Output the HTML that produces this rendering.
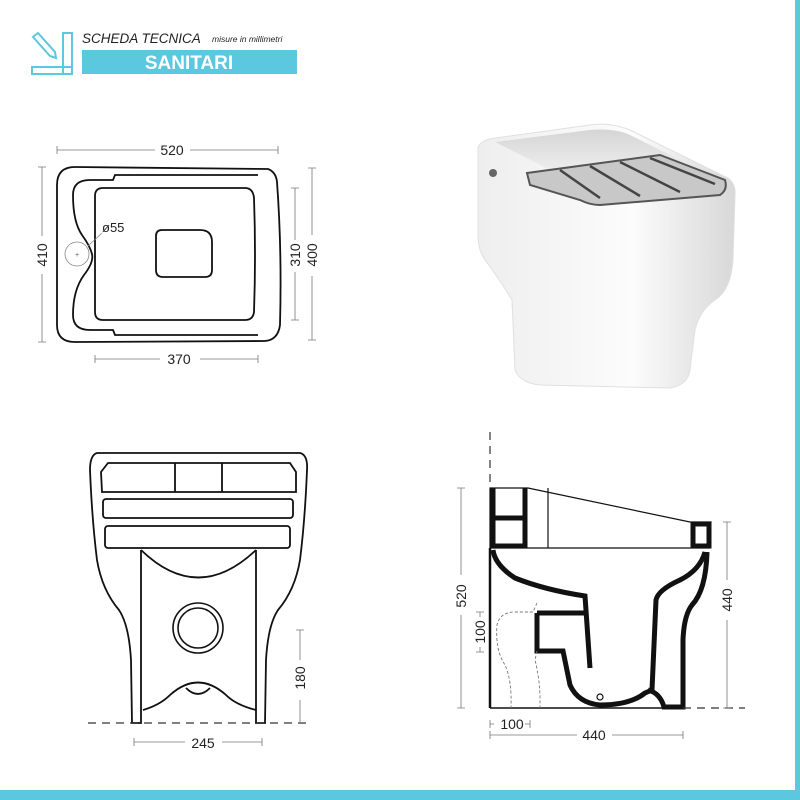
<!DOCTYPE html>
<html><head><meta charset="utf-8"><style>
html,body{margin:0;padding:0;background:#fff}
svg{display:block}
text{font-family:"Liberation Sans",sans-serif}
</style></head><body>
<svg width="800" height="800" viewBox="0 0 800 800" xmlns="http://www.w3.org/2000/svg">
<rect width="800" height="800" fill="#fff"/>
<rect x="0" y="790" width="800" height="10" fill="#5bc8e0"/>
<rect x="795" y="0" width="5" height="800" fill="#5bc8e0"/>

<!-- header icon -->
<g fill="none" stroke="#5bc8e0" stroke-width="2">
<rect x="32" y="67" width="40" height="7"/>
<rect x="63" y="33" width="9" height="41"/>
<path d="M33 37 L38 33 L55 52 L56 58 L50 56 Z"/>
</g>
<text x="82" y="43" font-size="13.5" font-style="italic" fill="#222">SCHEDA TECNICA</text>
<text x="212" y="42" font-size="8.5" font-style="italic" fill="#222">misure in millimetri</text>
<rect x="82" y="50" width="215" height="24" fill="#5bc8e0"/>
<text x="189" y="69" font-size="19" font-weight="bold" fill="#fff" text-anchor="middle">SANITARI</text>

<!-- top plan -->
<g fill="none" stroke="#111" stroke-width="1.8">
<path d="M57 185 Q57 167 75 167 L268 169 Q276 172 277 182 Q282 250 280 325 Q278 340 265 341 L75 342 Q57 342 57 325 Z"/>
<path d="M258 175 L115 175 L113 180 L90 180 Q73 180 73 195 Q73 222 82 235 Q90 246 92 254 Q94 262 84 275 Q73 290 73 315 Q73 330 90 330 L113 330 L115 335 L258 335"/>
<path d="M103 188 L245 188 Q253 188 254 198 Q256 255 254 312 Q253 320 245 320 L103 320 Q95 320 95 312 L95 196 Q95 188 103 188 Z"/>
<path d="M162 230 L200 230 Q212 230 212 242 L212 270 Q212 277 205 277 L163 277 Q156 277 156 270 L156 236 Q156 230 162 230 Z"/>
</g>
<circle cx="77" cy="254" r="12" fill="none" stroke="#888" stroke-width="0.8"/>
<text x="77" y="257" font-size="7" fill="#555" text-anchor="middle">+</text>
<line x1="88" y1="246" x2="102" y2="233" stroke="#888" stroke-width="0.8"/>
<text x="102" y="232" font-size="13" fill="#222">ø55</text>
<g stroke="#777" stroke-width="0.8" fill="none">
<path d="M57 146 V154 M57 150 H155 M190 150 H278 M278 146 V154"/>
<path d="M38 167 H46 M42 167 V236 M42 274 V342 M38 342 H46"/>
<path d="M291 188 H299 M295 188 V240 M295 272 V320 M291 320 H299"/>
<path d="M308 168 H316 M312 168 V235 M312 276 V340 M308 340 H316"/>
<path d="M95 355 V363 M95 359 H160 M200 359 H258 M258 355 V363"/>
</g>
<g font-size="14" fill="#222">
<text x="172" y="155" text-anchor="middle">520</text>
<text x="179" y="364" text-anchor="middle">370</text>
<text transform="translate(47,255) rotate(-90)" text-anchor="middle">410</text>
<text transform="translate(300,255) rotate(-90)" text-anchor="middle">310</text>
<text transform="translate(317,255) rotate(-90)" text-anchor="middle">400</text>
</g>

<!-- photo -->
<defs>
<linearGradient id="g1" x1="0" y1="0" x2="1" y2="0">
<stop offset="0" stop-color="#eeeeee"/><stop offset="0.6" stop-color="#fcfcfc"/><stop offset="1" stop-color="#d8d8d8"/></linearGradient>
<linearGradient id="g2" x1="0" y1="0" x2="0" y2="1">
<stop offset="0" stop-color="#d5d5d5"/><stop offset="1" stop-color="#f0f0f0"/></linearGradient>
</defs>
<path d="M478 148 Q480 140 495 138 L590 125 Q610 122 630 130 L728 178 Q736 184 735 195 L733 260 Q731 290 715 300 Q700 310 695 330 L690 370 Q688 385 670 388 L540 385 Q520 383 515 370 L512 300 Q500 280 485 260 Q478 250 478 235 Z" fill="url(#g1)" stroke="#e0e0e0"/>
<path d="M495 142 L590 130 Q615 128 630 135 L700 170 L690 175 L560 175 Z" fill="url(#g2)"/>
<path d="M527 173 L660 155 L725 180 Q728 190 720 195 L600 205 Q590 205 580 200 L530 185 Z" fill="#c8c8c8" stroke="#555" stroke-width="2"/>
<g stroke="#444" stroke-width="2.5"><line x1="560" y1="170" x2="600" y2="198"/><line x1="590" y1="166" x2="640" y2="196"/><line x1="620" y1="162" x2="680" y2="192"/><line x1="650" y1="158" x2="715" y2="184"/></g>
<circle cx="493" cy="173" r="4" fill="#666"/>

<!-- front view -->
<g fill="none" stroke="#111" stroke-width="1.8">
<path d="M141 550 L141 723 L132 723 L131 660 Q129 625 119 610 Q102 590 97 560 Q92 520 90 470 Q90 455 97 453 L300 453 Q308 455 307 470 Q305 520 300 560 Q295 590 278 610 Q268 625 266 660 L265 723 L256 723 L256 550"/>
<path d="M108 463 L290 463 L296 472 L296 492 L102 492 L101 472 Z M175 463 V492 M222 463 V492"/>
<rect x="103" y="499" width="190" height="19" rx="3"/>
<rect x="105" y="526" width="185" height="22" rx="3"/>
<path d="M141 550 Q198 605 256 550"/>
<path d="M143 710 Q160 705 170 695 Q198 670 226 695 Q236 705 256 710"/>
<path d="M186 688 Q198 700 210 688"/>
</g>
<circle cx="198" cy="628" r="25" fill="none" stroke="#111" stroke-width="1.6"/>
<circle cx="198" cy="628" r="20" fill="none" stroke="#111" stroke-width="1.6"/>
<line x1="88" y1="723" x2="308" y2="723" stroke="#333" stroke-width="1.2" stroke-dasharray="8 6"/>
<g stroke="#777" stroke-width="0.8" fill="none">
<path d="M296 630 H304 M300 630 V660 M300 700 V723"/>
<path d="M134 738 V746 M134 742 H185 M222 742 H262 M262 738 V746"/>
</g>
<g font-size="14" fill="#222">
<text x="203" y="748" text-anchor="middle">245</text>
<text transform="translate(305,678) rotate(-90)" text-anchor="middle">180</text>
</g>

<!-- side view -->
<line x1="490" y1="432" x2="490" y2="488" stroke="#333" stroke-width="1.2" stroke-dasharray="8 6"/>
<g fill="none" stroke="#111">
<path d="M490 488 L528 488 L690 522 L711 522 L709 548 L490 548 Z" stroke-width="1.2"/>
<line x1="548" y1="488" x2="548" y2="548" stroke-width="1.2"/>
<path d="M693 524 H709 V546 H693 Z" stroke-width="5"/>
<path d="M493 488 V548 M525 488 V548 M493 518 H525 M493 546 H525" stroke-width="5"/>
<path d="M493 550 Q495 565 515 578 Q545 590 585 596 L590 668" stroke-width="5"/>
<path d="M537 613 H585 M537 613 V651 H563 L570 685 Q578 703 600 705 Q630 705 645 693 L652 690 L656 600 Q658 590 680 580 Q700 570 705 552" stroke-width="5"/>
<path d="M707 552 Q706 590 692 605 Q684 615 683 640 L683 707 L664 707 Q660 693 648 690" stroke-width="5"/>
<line x1="490" y1="548" x2="490" y2="708" stroke-width="2.5"/>
<line x1="490" y1="708" x2="683" y2="708" stroke-width="1.5"/>
</g>
<circle cx="600" cy="697" r="3" fill="none" stroke="#111" stroke-width="1.2"/>
<line x1="683" y1="708" x2="745" y2="708" stroke="#333" stroke-width="1.2" stroke-dasharray="8 6"/>
<g stroke="#777" stroke-width="0.9" fill="none" stroke-dasharray="3 2">
<path d="M537 603 L533 612 L515 612 Q500 612 497 625 Q495 650 505 665 Q512 680 511 708"/>
<path d="M537 651 L535 660 Q540 680 540 700 L540 708"/>
</g>
<g stroke="#777" stroke-width="0.8" fill="none">
<path d="M457 488 H465 M461 488 V575 M461 615 V708 M457 708 H465"/>
<path d="M476 612 H484 M480 612 V617 M480 647 V652 M476 652 H484"/>
<path d="M723 522 H731 M727 522 V580 M727 620 V708 M723 708 H731"/>
<path d="M490 720 V728 M490 724 H494 M525 724 H530 M530 720 V728"/>
<path d="M490 731 V739 M490 735 H577 M612 735 H683 M683 731 V739"/>
</g>
<g font-size="14" fill="#222">
<text x="512" y="729" text-anchor="middle">100</text>
<text x="594" y="740" text-anchor="middle">440</text>
<text transform="translate(466,596) rotate(-90)" text-anchor="middle">520</text>
<text transform="translate(485,632) rotate(-90)" text-anchor="middle">100</text>
<text transform="translate(732,600) rotate(-90)" text-anchor="middle">440</text>
</g>
</svg>
</body></html>
